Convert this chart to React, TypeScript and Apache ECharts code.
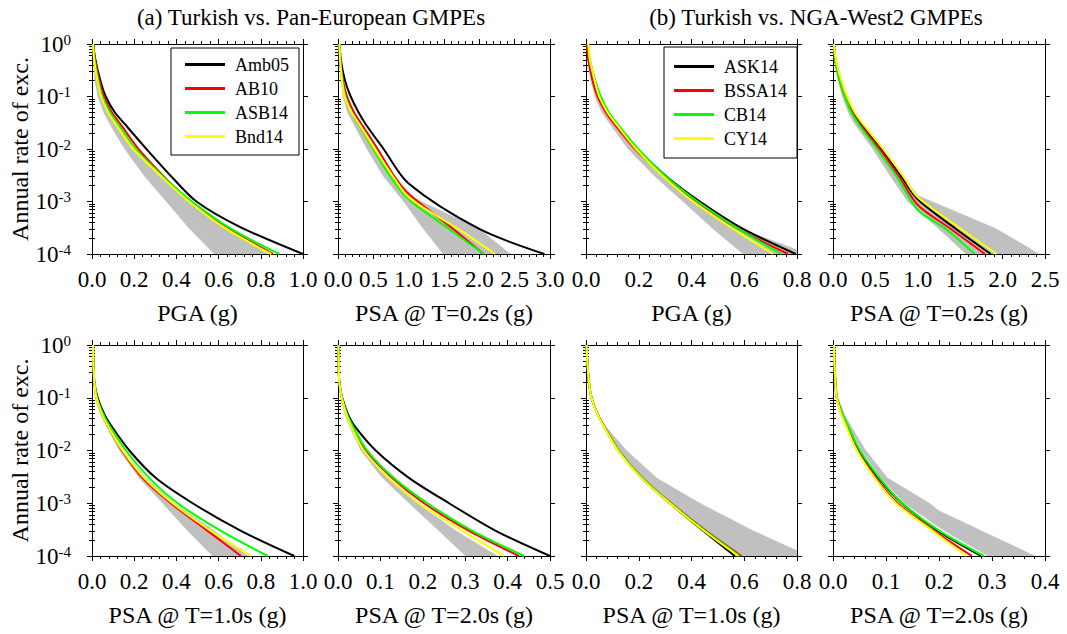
import React, { useEffect, useRef } from "react";
import * as echarts from "echarts";

type Pt = [number, number];

const FONT = "Liberation Serif";

// ---------- texts ----------
const groupTitles = ["(a) Turkish vs. Pan-European GMPEs", "(b) Turkish vs. NGA-West2 GMPEs"];
const yAxisName = "Annual rate of exc.";
const panEuroModels = ["Amb05", "AB10", "ASB14", "Bnd14"];
const ngaModels = ["ASK14", "BSSA14", "CB14", "CY14"];
const modelColors = ["#000000", "#ff0000", "#00ff00", "#ffff00"];
const xAxisNames = [
  "PGA (g)", "PSA @ T=0.2s (g)", "PGA (g)", "PSA @ T=0.2s (g)",
  "PSA @ T=1.0s (g)", "PSA @ T=2.0s (g)", "PSA @ T=1.0s (g)", "PSA @ T=2.0s (g)",
];
const xAxisMax = [1.0, 3.0, 0.8, 2.5, 1.0, 0.5, 0.8, 0.4];
const xAxisStep = [0.2, 0.5, 0.2, 0.5, 0.2, 0.1, 0.2, 0.1];
const yMin = 1e-4;
const yMax = 1;

// ---------- (a) PGA ----------
const aPGA_Amb05: Pt[] = [[0.005,1],[0.016,0.5],[0.04,0.2],[0.065,0.1],[0.108,0.05],[0.155,0.03],[0.258,0.01],[0.376,0.003],[0.495,0.001],[0.7,0.00033],[1.0,0.0001]];
const aPGA_AB10: Pt[] = [[0.005,1],[0.015,0.5],[0.035,0.2],[0.057,0.1],[0.094,0.05],[0.134,0.03],[0.22,0.01],[0.34,0.003],[0.466,0.001],[0.65,0.0003],[0.858,0.0001]];
const aPGA_ASB14: Pt[] = [[0.005,1],[0.012,0.5],[0.03,0.2],[0.049,0.1],[0.085,0.05],[0.123,0.03],[0.207,0.01],[0.336,0.003],[0.474,0.001],[0.66,0.0003],[0.889,0.0001]];
const aPGA_Bnd14: Pt[] = [[0.005,1],[0.01,0.5],[0.026,0.2],[0.043,0.1],[0.076,0.05],[0.112,0.03],[0.197,0.01],[0.329,0.003],[0.46,0.001],[0.637,0.0003],[0.85,0.0001]];
const aPGA_bandLow: Pt[] = [[0.005,1],[0.007,0.5],[0.014,0.2],[0.028,0.1],[0.055,0.05],[0.084,0.03],[0.155,0.01],[0.25,0.003],[0.352,0.001],[0.463,0.0003],[0.58,0.0001]];
const aPGA_bandHigh: Pt[] = [[0.005,1],[0.01,0.5],[0.024,0.2],[0.04,0.1],[0.072,0.05],[0.107,0.03],[0.19,0.01],[0.32,0.003],[0.455,0.001],[0.637,0.0003],[0.834,0.0001]];

// ---------- (a) PSA T=0.2s ----------
const aT02_Amb05: Pt[] = [[0.024,1],[0.04,0.5],[0.1,0.2],[0.18,0.1],[0.29,0.05],[0.39,0.03],[0.645,0.01],[1.0,0.0022],[2.0,0.0003],[2.92,0.0001]];
const aT02_AB10: Pt[] = [[0.02,1],[0.033,0.5],[0.07,0.2],[0.127,0.1],[0.225,0.05],[0.33,0.03],[0.56,0.01],[0.8,0.003],[1.0,0.0014],[1.63,0.0003],[2.06,0.0001]];
const aT02_ASB14: Pt[] = [[0.02,1],[0.03,0.5],[0.06,0.2],[0.104,0.1],[0.19,0.05],[0.29,0.03],[0.5,0.01],[0.74,0.003],[1.0,0.0011],[1.57,0.0003],[2.07,0.0001]];
const aT02_Bnd14: Pt[] = [[0.02,1],[0.03,0.5],[0.058,0.2],[0.094,0.1],[0.19,0.05],[0.3,0.03],[0.52,0.01],[0.78,0.003],[1.0,0.0012],[1.7,0.0003],[2.22,0.0001]];
const aT02_bandLow: Pt[] = [[0.015,1],[0.02,0.5],[0.042,0.2],[0.07,0.1],[0.135,0.05],[0.22,0.03],[0.41,0.01],[0.645,0.003],[0.93,0.001],[1.21,0.0003],[1.49,0.0001]];
const aT02_bandHigh: Pt[] = [[0.02,1],[0.028,0.5],[0.06,0.2],[0.094,0.1],[0.18,0.05],[0.28,0.03],[0.5,0.01],[0.76,0.003],[1.0,0.0013],[2.0,0.0003],[2.44,0.0001]];

// ---------- (b) PGA ----------
const bPGA_ASK14: Pt[] = [[0.005,1],[0.013,0.5],[0.034,0.2],[0.053,0.1],[0.084,0.05],[0.116,0.03],[0.194,0.01],[0.305,0.003],[0.432,0.001],[0.596,0.0003],[0.795,0.0001]];
const bPGA_BSSA14: Pt[] = [[0.003,1],[0.009,0.5],[0.025,0.2],[0.044,0.1],[0.075,0.05],[0.107,0.03],[0.186,0.01],[0.3,0.003],[0.419,0.001],[0.577,0.0003],[0.766,0.0001]];
const bPGA_CB14: Pt[] = [[0.008,1],[0.015,0.5],[0.035,0.2],[0.056,0.1],[0.086,0.05],[0.119,0.03],[0.198,0.01],[0.303,0.003],[0.423,0.001],[0.577,0.0003],[0.741,0.0001]];
const bPGA_CY14: Pt[] = [[0.009,1],[0.015,0.5],[0.033,0.2],[0.05,0.1],[0.081,0.05],[0.114,0.03],[0.19,0.01],[0.293,0.003],[0.406,0.001],[0.558,0.0003],[0.709,0.0001]];
const bPGA_bandLow: Pt[] = [[0.003,1],[0.006,0.5],[0.019,0.2],[0.034,0.1],[0.06,0.05],[0.091,0.03],[0.16,0.01],[0.261,0.003],[0.368,0.001],[0.482,0.0003],[0.596,0.0001]];
const bPGA_bandHigh: Pt[] = [[0.004,1],[0.01,0.5],[0.028,0.2],[0.04,0.1],[0.071,0.05],[0.104,0.03],[0.182,0.01],[0.293,0.003],[0.42,0.001],[0.589,0.0003],[0.8,0.00012],[0.8,0.0001]];

// ---------- (b) PSA T=0.2s ----------
const bT02_ASK14: Pt[] = [[0.01,1],[0.03,0.5],[0.09,0.2],[0.149,0.1],[0.24,0.05],[0.334,0.03],[0.57,0.01],[0.805,0.003],[1.0,0.0011],[1.45,0.0003],[1.86,0.0001]];
const bT02_BSSA14: Pt[] = [[0.01,1],[0.025,0.5],[0.08,0.2],[0.141,0.1],[0.225,0.05],[0.314,0.03],[0.55,0.01],[0.78,0.003],[1.0,0.00086],[1.39,0.0003],[1.79,0.0001]];
const bT02_CB14: Pt[] = [[0.01,1],[0.025,0.5],[0.08,0.2],[0.141,0.1],[0.215,0.05],[0.3,0.03],[0.52,0.01],[0.75,0.003],[1.0,0.00069],[1.33,0.0003],[1.67,0.0001]];
const bT02_CY14: Pt[] = [[0.012,1],[0.035,0.5],[0.1,0.2],[0.165,0.1],[0.255,0.05],[0.353,0.03],[0.59,0.01],[0.83,0.003],[1.0,0.0012],[1.51,0.0003],[1.93,0.0001]];
const bT02_bandLow: Pt[] = [[0.008,1],[0.015,0.5],[0.059,0.2],[0.11,0.1],[0.18,0.05],[0.255,0.03],[0.47,0.01],[0.68,0.003],[0.88,0.001],[1.25,0.0003],[1.57,0.0001]];
const bT02_bandHigh: Pt[] = [[0.01,1],[0.03,0.5],[0.1,0.2],[0.16,0.1],[0.25,0.05],[0.35,0.03],[0.59,0.01],[0.83,0.003],[1.0,0.0013],[1.93,0.0003],[2.43,0.0001]];

// ---------- (a) PSA T=1.0s ----------
const aT10_Amb05: Pt[] = [[0.005,1],[0.006,0.5],[0.011,0.2],[0.027,0.1],[0.057,0.05],[0.09,0.03],[0.177,0.01],[0.303,0.003],[0.477,0.001],[0.706,0.0003],[0.959,0.0001]];
const aT10_AB10: Pt[] = [[0.005,1],[0.006,0.5],[0.011,0.2],[0.021,0.1],[0.046,0.05],[0.074,0.03],[0.142,0.01],[0.24,0.003],[0.374,0.001],[0.548,0.0003],[0.706,0.0001]];
const aT10_ASB14: Pt[] = [[0.005,1],[0.006,0.5],[0.011,0.2],[0.024,0.1],[0.052,0.05],[0.082,0.03],[0.161,0.01],[0.272,0.003],[0.406,0.001],[0.611,0.0003],[0.833,0.0001]];
const aT10_Bnd14: Pt[] = [[0.005,1],[0.006,0.5],[0.011,0.2],[0.021,0.1],[0.046,0.05],[0.074,0.03],[0.145,0.01],[0.248,0.003],[0.382,0.001],[0.564,0.0003],[0.754,0.0001]];
const aT10_bandLow: Pt[] = [[0.004,1],[0.005,0.5],[0.009,0.2],[0.017,0.1],[0.041,0.05],[0.066,0.03],[0.13,0.01],[0.224,0.003],[0.335,0.001],[0.453,0.0003],[0.572,0.0001]];
const aT10_bandHigh: Pt[] = [[0.005,1],[0.006,0.5],[0.011,0.2],[0.021,0.1],[0.046,0.05],[0.074,0.03],[0.145,0.01],[0.256,0.003],[0.39,0.001],[0.58,0.0003],[0.738,0.0001]];

// ---------- (a) PSA T=2.0s ----------
const aT20_Amb05: Pt[] = [[0.001,1],[0.0016,0.5],[0.003,0.2],[0.01,0.1],[0.023,0.05],[0.038,0.03],[0.089,0.01],[0.168,0.003],[0.262,0.001],[0.372,0.0003],[0.5,0.0001]];
const aT20_AB10: Pt[] = [[0.001,1],[0.0016,0.5],[0.003,0.2],[0.009,0.1],[0.02,0.05],[0.032,0.03],[0.065,0.01],[0.128,0.003],[0.203,0.001],[0.309,0.0003],[0.427,0.0001]];
const aT20_ASB14: Pt[] = [[0.001,1],[0.0016,0.5],[0.003,0.2],[0.009,0.1],[0.021,0.05],[0.034,0.03],[0.069,0.01],[0.132,0.003],[0.211,0.001],[0.317,0.0003],[0.439,0.0001]];
const aT20_Bnd14: Pt[] = [[0.001,1],[0.0016,0.5],[0.003,0.2],[0.009,0.1],[0.019,0.05],[0.03,0.03],[0.061,0.01],[0.12,0.003],[0.191,0.001],[0.294,0.0003],[0.392,0.0001]];
const aT20_bandLow: Pt[] = [[0.001,1],[0.0014,0.5],[0.0025,0.2],[0.007,0.1],[0.016,0.05],[0.026,0.03],[0.054,0.01],[0.105,0.003],[0.168,0.001],[0.238,0.0003],[0.301,0.0001]];
const aT20_bandHigh: Pt[] = [[0.001,1],[0.0016,0.5],[0.003,0.2],[0.009,0.1],[0.019,0.05],[0.03,0.03],[0.061,0.01],[0.119,0.003],[0.187,0.001],[0.278,0.0003],[0.376,0.0001]];

// ---------- (b) PSA T=1.0s ----------
const bT10_ASK14: Pt[] = [[0.002,1],[0.005,0.5],[0.011,0.2],[0.021,0.1],[0.043,0.05],[0.066,0.03],[0.122,0.01],[0.211,0.003],[0.318,0.001],[0.444,0.0003],[0.564,0.0001]];
const bT10_BSSA14: Pt[] = [[0.002,1],[0.005,0.5],[0.011,0.2],[0.021,0.1],[0.043,0.05],[0.067,0.03],[0.124,0.01],[0.214,0.003],[0.323,0.001],[0.455,0.0003],[0.589,0.0001]];
const bT10_CB14: Pt[] = [[0.002,1],[0.005,0.5],[0.011,0.2],[0.021,0.1],[0.043,0.05],[0.066,0.03],[0.123,0.01],[0.213,0.003],[0.321,0.001],[0.452,0.0003],[0.583,0.0001]];
const bT10_CY14: Pt[] = [[0.002,1],[0.005,0.5],[0.011,0.2],[0.021,0.1],[0.042,0.05],[0.065,0.03],[0.121,0.01],[0.21,0.003],[0.318,0.001],[0.447,0.0003],[0.577,0.0001]];
const bT10_bandLow: Pt[] = [[0.002,1],[0.005,0.5],[0.011,0.2],[0.021,0.1],[0.043,0.05],[0.066,0.03],[0.122,0.01],[0.211,0.003],[0.318,0.001],[0.444,0.0003],[0.564,0.0001]];
const bT10_bandHigh: Pt[] = [[0.002,1],[0.005,0.5],[0.011,0.2],[0.022,0.1],[0.045,0.05],[0.07,0.03],[0.154,0.01],[0.268,0.003],[0.432,0.001],[0.634,0.0003],[0.8,0.000126],[0.8,0.0001]];

// ---------- (b) PSA T=2.0s ----------
const bT20_ASK14: Pt[] = [[0.002,1],[0.0025,0.5],[0.0045,0.2],[0.007,0.1],[0.017,0.05],[0.027,0.03],[0.049,0.01],[0.086,0.003],[0.13,0.001],[0.198,0.0003],[0.28,0.0001]];
const bT20_BSSA14: Pt[] = [[0.002,1],[0.0025,0.5],[0.0045,0.2],[0.007,0.1],[0.016,0.05],[0.025,0.03],[0.046,0.01],[0.081,0.003],[0.122,0.001],[0.191,0.0003],[0.262,0.0001]];
const bT20_CB14: Pt[] = [[0.002,1],[0.0025,0.5],[0.0045,0.2],[0.007,0.1],[0.017,0.05],[0.028,0.03],[0.051,0.01],[0.088,0.003],[0.131,0.001],[0.201,0.0003],[0.285,0.0001]];
const bT20_CY14: Pt[] = [[0.002,1],[0.0025,0.5],[0.0045,0.2],[0.007,0.1],[0.015,0.05],[0.024,0.03],[0.045,0.01],[0.079,0.003],[0.119,0.001],[0.188,0.0003],[0.252,0.0001]];
const bT20_bandLow: Pt[] = [[0.002,1],[0.003,0.5],[0.005,0.2],[0.008,0.1],[0.018,0.05],[0.029,0.03],[0.054,0.01],[0.09,0.003],[0.135,0.001],[0.21,0.0003],[0.293,0.0001]];
const bT20_bandHigh: Pt[] = [[0.002,1],[0.003,0.5],[0.006,0.2],[0.01,0.1],[0.021,0.05],[0.033,0.03],[0.062,0.01],[0.103,0.003],[0.182,0.001],[0.2,0.00072],[0.28,0.0003],[0.381,0.0001]];

const panelCurves: Pt[][][] = [
  [aPGA_Amb05, aPGA_AB10, aPGA_ASB14, aPGA_Bnd14],
  [aT02_Amb05, aT02_AB10, aT02_ASB14, aT02_Bnd14],
  [bPGA_ASK14, bPGA_BSSA14, bPGA_CB14, bPGA_CY14],
  [bT02_ASK14, bT02_BSSA14, bT02_CB14, bT02_CY14],
  [aT10_Amb05, aT10_AB10, aT10_ASB14, aT10_Bnd14],
  [aT20_Amb05, aT20_AB10, aT20_ASB14, aT20_Bnd14],
  [bT10_ASK14, bT10_BSSA14, bT10_CB14, bT10_CY14],
  [bT20_ASK14, bT20_BSSA14, bT20_CB14, bT20_CY14],
];
const panelBands: [Pt[], Pt[]][] = [
  [aPGA_bandLow, aPGA_bandHigh],
  [aT02_bandLow, aT02_bandHigh],
  [bPGA_bandLow, bPGA_bandHigh],
  [bT02_bandLow, bT02_bandHigh],
  [aT10_bandLow, aT10_bandHigh],
  [aT20_bandLow, aT20_bandHigh],
  [bT10_bandLow, bT10_bandHigh],
  [bT20_bandLow, bT20_bandHigh],
];
const panelModels = [panEuroModels, panEuroModels, ngaModels, ngaModels, panEuroModels, panEuroModels, ngaModels, ngaModels];

// ---------- layout ----------
const colLeft = [92, 338, 586, 833];
const colWidth = [211, 212, 211, 212];
const rowTop = [44, 345];
const rowHeight = [210, 211];

function buildOption() {
  const grid: any[] = [];
  const xAxis: any[] = [];
  const yAxis: any[] = [];
  const series: any[] = [];
  const black = "#000";
  const minorLogTicks: number[] = [];
  for (let e = -4; e < 0; e++) for (let k = 2; k <= 9; k++) minorLogTicks.push(Math.log10(k) + e);

  panelCurves.forEach((curves, i) => {
    const col = i % 4;
    const row = Math.floor(i / 4);
    grid.push({ left: colLeft[col], top: rowTop[row], width: colWidth[col], height: rowHeight[row] });
    const axisLine = { show: true, onZero: false, lineStyle: { color: black, width: 1 } };
    const axisTick = { show: true, inside: false, length: 5, lineStyle: { color: black, width: 1 } };
    const minorTick = { show: true, splitNumber: 5, length: 3, lineStyle: { color: black, width: 1 } };
    const xBase = {
      type: "value", gridIndex: i, min: 0, max: xAxisMax[i], interval: xAxisStep[i],
      axisLine, axisTick, minorTick, splitLine: { show: false }, minorSplitLine: { show: false },
    };
    xAxis.push({
      ...xBase, position: "bottom",
      name: xAxisNames[i], nameLocation: "middle", nameGap: 47,
      nameTextStyle: { fontFamily: FONT, fontSize: 24, color: black },
      axisLabel: {
        show: true, margin: 14, fontFamily: FONT, fontSize: 23, color: black,
        showMinLabel: true, showMaxLabel: true, hideOverlap: false,
        formatter: (v: number) => v.toFixed(1),
      },
    });
    xAxis.push({ ...xBase, position: "top", axisLabel: { show: false } });

    const first = col === 0;
    yAxis.push({
      type: "log", logBase: 10, gridIndex: i, min: yMin, max: yMax, position: "left",
      axisLine, axisTick, splitLine: { show: false },
      name: first ? yAxisName : "", nameLocation: "middle", nameGap: 57,
      nameTextStyle: { fontFamily: FONT, fontSize: 24, color: black },
      axisLabel: {
        show: first, margin: 21, fontFamily: FONT,
        formatter: (v: number) => `{b|10}{s|${Math.round(Math.log10(v))}}`,
        rich: {
          b: { fontFamily: FONT, fontSize: 23, color: black, lineHeight: 24, verticalAlign: "middle" },
          s: { fontFamily: FONT, fontSize: 15, color: black, lineHeight: 16, verticalAlign: "top" },
        },
      },
    });
    yAxis.push({
      type: "log", logBase: 10, gridIndex: i, min: yMin, max: yMax, position: "right",
      axisLine, axisTick, splitLine: { show: false }, axisLabel: { show: false },
    });
    for (const pos of ["left", "right"]) {
      yAxis.push({
        type: "value", gridIndex: i, min: -4, max: 0, position: pos,
        axisLine: { show: false }, axisLabel: { show: false }, splitLine: { show: false },
        axisTick: { show: true, inside: false, length: 3, customValues: minorLogTicks, lineStyle: { color: black, width: 1 } },
      });
    }

    const [low, high] = panelBands[i];
    const poly: Pt[] = [...low, ...high.slice().reverse()];
    series.push({
      type: "custom", name: "band", coordinateSystem: "cartesian2d",
      xAxisIndex: 2 * i, yAxisIndex: 4 * i, silent: true, clip: true,
      data: [poly[0]],
      renderItem: (_params: any, api: any) => ({
        type: "polygon",
        shape: { points: poly.map((p) => api.coord(p)) },
        style: { fill: "#c0c0c0", stroke: "#c0c0c0", lineWidth: 0.5 },
      }),
      z: 1,
    });
    curves.forEach((c, k) => {
      series.push({
        type: "line", name: panelModels[i][k], xAxisIndex: 2 * i, yAxisIndex: 4 * i,
        data: c, symbol: "none", smooth: 0.3, color: modelColors[k],
        lineStyle: { color: modelColors[k], width: 2 }, itemStyle: { color: modelColors[k] },
        z: 2 + k, silent: true,
      });
    });
  });

  const legendBase = {
    orient: "vertical", icon: "rect", itemWidth: 40, itemHeight: 3, itemGap: 5,
    borderColor: "#000", borderWidth: 1, backgroundColor: "#fff",
    textStyle: { fontFamily: FONT, fontSize: 18, color: black, lineHeight: 19, padding: [0, 0, 0, 5] },
    selectedMode: false,
  };

  return {
    animation: false,
    backgroundColor: "#fff",
    textStyle: { fontFamily: FONT },
    grid, xAxis, yAxis, series,
    legend: [
      { ...legendBase, data: panEuroModels, left: 171, top: 48, padding: [7, 10, 9, 14] },
      { ...legendBase, data: ngaModels, left: 664, top: 47, padding: [10, 10, 10, 10] },
    ],
    graphic: [
      { type: "text", x: 311, y: 17, style: { text: groupTitles[0], fontFamily: FONT, fontSize: 23, fill: black, align: "center", verticalAlign: "middle" } },
      { type: "text", x: 816, y: 17, style: { text: groupTitles[1], fontFamily: FONT, fontSize: 23, fill: black, align: "center", verticalAlign: "middle" } },
    ],
  };
}

export default function App() {
  const ref = useRef<HTMLDivElement>(null);
  useEffect(() => {
    if (!ref.current) return;
    const chart = echarts.init(ref.current, null, { renderer: "svg" });
    chart.setOption(buildOption() as any);
    return () => chart.dispose();
  }, []);
  return (
    <div
      ref={ref}
      style={{ position: "fixed", left: 0, top: 0, width: 1067, height: 634, background: "#fff" }}
    />
  );
}
